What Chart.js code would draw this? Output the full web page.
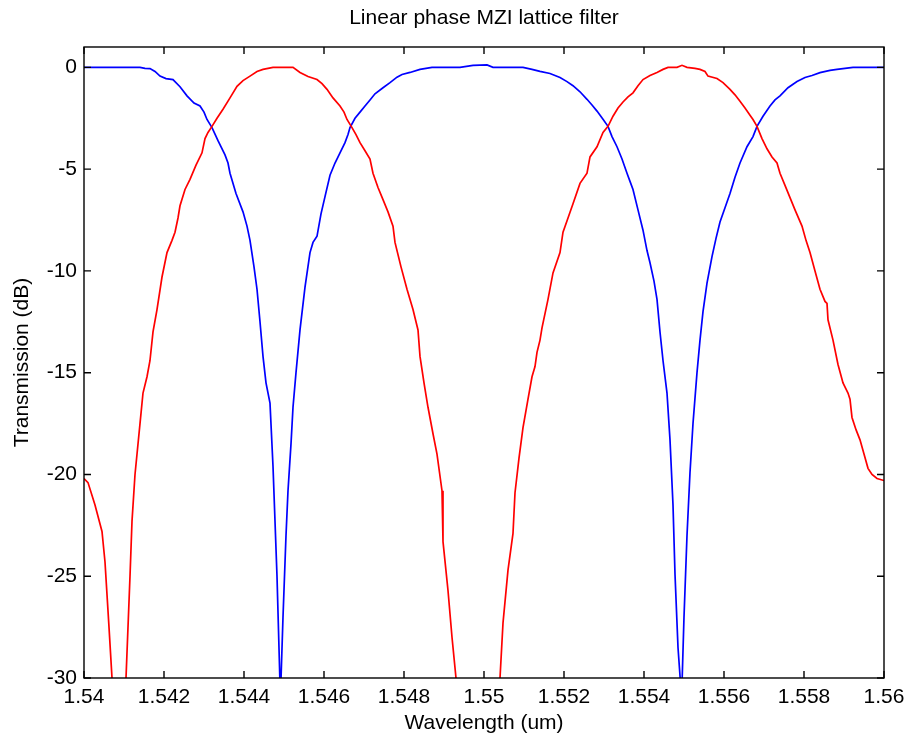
<!DOCTYPE html>
<html>
<head>
<meta charset="utf-8">
<script src="https://cdn.jsdelivr.net/npm/chart.js@4/dist/chart.umd.min.js"></script>
<style>
  html, body { margin: 0; padding: 0; background: #fff; }
  #wrap { width: 916px; height: 744px; }
</style>
</head>
<body>
<div id="wrap"><canvas id="chart" width="916" height="744"></canvas></div>
<script>
// wavelength in nm, transmission in dB
const blueWl = [
  1540.000, 1541.400, 1541.525, 1541.650, 1541.775, 1541.900, 1542.050, 1542.225, 1542.400, 1542.575,
  1542.750, 1542.900, 1543.000, 1543.075, 1543.200, 1543.350, 1543.525, 1543.600, 1543.650, 1543.800,
  1543.975, 1544.075, 1544.150, 1544.250, 1544.325, 1544.400, 1544.475, 1544.550, 1544.650, 1544.725,
  1544.825, 1544.910, 1544.975, 1545.050, 1545.100, 1545.175, 1545.225, 1545.300, 1545.400, 1545.525,
  1545.650, 1545.725, 1545.825, 1545.925, 1546.025, 1546.150, 1546.275, 1546.400, 1546.525, 1546.600,
  1546.650, 1546.775, 1546.900, 1547.025, 1547.150, 1547.275, 1547.475, 1547.650, 1547.825, 1547.950,
  1548.150, 1548.400, 1548.700, 1549.400, 1549.725, 1550.075, 1550.225, 1550.975, 1551.200, 1551.400,
  1551.650, 1551.900, 1552.075, 1552.225, 1552.400, 1552.575, 1552.700, 1552.825, 1552.975, 1553.100,
  1553.200, 1553.325, 1553.450, 1553.575, 1553.650, 1553.725, 1553.850, 1553.975, 1554.075, 1554.150,
  1554.250, 1554.325, 1554.400, 1554.475, 1554.575, 1554.650, 1554.725, 1554.775, 1554.850, 1554.940,
  1555.000, 1555.075, 1555.150, 1555.225, 1555.325, 1555.400, 1555.475, 1555.575, 1555.700, 1555.800,
  1555.900, 1556.025, 1556.150, 1556.275, 1556.400, 1556.575, 1556.725, 1556.825, 1556.975, 1557.150,
  1557.275, 1557.400, 1557.600, 1557.825, 1558.025, 1558.200, 1558.400, 1558.650, 1558.825, 1559.025,
  1559.225, 1560.000
];
const blueDb = [
  0, 0, -0.05, -0.06, -0.2, -0.43, -0.55, -0.6, -0.95, -1.4,
  -1.75, -1.9, -2.2, -2.56, -2.96, -3.6, -4.3, -4.7, -5.2, -6.2,
  -7.1, -7.8, -8.5, -9.8, -10.9, -12.5, -14.2, -15.5, -16.5, -19.6,
  -25, -31, -27, -23, -20.8, -18.5, -16.7, -15, -12.9, -10.8,
  -9.1, -8.6, -8.3, -7.2, -6.35, -5.3, -4.7, -4.2, -3.7, -3.3,
  -2.96, -2.5, -2.2, -1.9, -1.6, -1.3, -1.0, -0.75, -0.48, -0.35,
  -0.25, -0.1, 0, 0, 0.1, 0.12, 0, 0, -0.1, -0.2,
  -0.3, -0.5, -0.7, -0.9, -1.2, -1.57, -1.85, -2.15, -2.55, -2.9,
  -3.4, -3.9, -4.5, -5.2, -5.6, -6.0, -7.0, -8.0, -9.0, -9.6,
  -10.5, -11.4, -13.0, -14.4, -16, -18.3, -21.5, -24.9, -28.5, -31,
  -27, -23, -19.9, -17.5, -15, -13.4, -12, -10.6, -9.3, -8.4,
  -7.6, -6.9, -6.2, -5.4, -4.7, -3.9, -3.4, -2.9, -2.4, -1.9,
  -1.6, -1.4, -1.0, -0.7, -0.5, -0.4, -0.26, -0.15, -0.1, -0.05,
  0, 0
];
const redWl = [
  1540.000, 1540.100, 1540.275, 1540.450, 1540.525, 1540.625, 1540.700, 1540.875, 1541.050, 1541.150,
  1541.200, 1541.275, 1541.400, 1541.475, 1541.575, 1541.650, 1541.725, 1541.825, 1541.950, 1542.075,
  1542.200, 1542.275, 1542.350, 1542.400, 1542.525, 1542.650, 1542.800, 1542.950, 1543.025, 1543.100,
  1543.200, 1543.325, 1543.475, 1543.650, 1543.825, 1543.975, 1544.150, 1544.325, 1544.475, 1544.725,
  1545.225, 1545.400, 1545.600, 1545.825, 1545.950, 1546.075, 1546.225, 1546.400, 1546.500, 1546.575,
  1546.700, 1546.800, 1546.900, 1547.025, 1547.150, 1547.225, 1547.350, 1547.475, 1547.600, 1547.725,
  1547.775, 1547.925, 1548.075, 1548.225, 1548.350, 1548.400, 1548.500, 1548.600, 1548.725, 1548.825,
  1548.950, 1548.975, 1549.100, 1549.200, 1549.300, 1549.850, 1550.400, 1550.475, 1550.600, 1550.725,
  1550.775, 1550.875, 1550.975, 1551.100, 1551.200, 1551.275, 1551.325, 1551.400, 1551.450, 1551.600,
  1551.725, 1551.900, 1551.975, 1552.100, 1552.225, 1552.400, 1552.575, 1552.650, 1552.825, 1552.975,
  1553.100, 1553.225, 1553.350, 1553.475, 1553.600, 1553.725, 1553.850, 1553.975, 1554.150, 1554.325,
  1554.475, 1554.600, 1554.825, 1554.950, 1555.075, 1555.275, 1555.400, 1555.525, 1555.600, 1555.825,
  1555.975, 1556.150, 1556.275, 1556.400, 1556.525, 1556.650, 1556.725, 1556.825, 1556.950, 1557.075,
  1557.200, 1557.325, 1557.400, 1557.525, 1557.650, 1557.775, 1557.950, 1558.050, 1558.150, 1558.275,
  1558.400, 1558.525, 1558.575, 1558.600, 1558.725, 1558.850, 1558.975, 1559.100, 1559.150, 1559.200,
  1559.300, 1559.400, 1559.500, 1559.600, 1559.700, 1559.825, 1560.000
];
const redDb = [
  -20.2, -20.4, -21.5, -22.8, -24.3, -27.5, -30, -36, -30, -25,
  -22.3, -20, -17.5, -16, -15.2, -14.4, -13, -11.9, -10.3, -9.1,
  -8.5, -8.1, -7.4, -6.8, -6.0, -5.5, -4.8, -4.2, -3.5, -3.2,
  -2.9, -2.5, -2.06, -1.5, -0.93, -0.65, -0.43, -0.2, -0.1, 0,
  0, -0.25, -0.45, -0.6, -0.8, -1.08, -1.5, -1.9, -2.2, -2.56,
  -2.96, -3.3, -3.7, -4.1, -4.5, -5.2, -5.9, -6.5, -7.1, -7.8,
  -8.6, -9.8, -10.9, -11.9, -12.9, -14.2, -15.5, -16.7, -18, -19,
  -20.8, -23.3, -25.7, -28, -30, -44, -30, -27.3, -24.7, -22.9,
  -20.9, -19.2, -17.7, -16.3, -15.2, -14.7, -14.0, -13.4, -12.8, -11.4,
  -10.1, -9.1, -8.1, -7.4, -6.7, -5.7, -5.2, -4.4, -3.9, -3.2,
  -2.9, -2.4, -2.0, -1.7, -1.45, -1.25, -0.9, -0.6, -0.4, -0.25,
  -0.1, 0, 0, 0.1, 0, -0.05, -0.1, -0.2, -0.43, -0.55,
  -0.75, -1.08, -1.35, -1.67, -2.0, -2.35, -2.56, -2.9, -3.5, -4.0,
  -4.4, -4.7, -5.2, -5.8, -6.4, -7.0, -7.8, -8.5, -9.1, -10.0,
  -10.9, -11.5, -11.6, -12.4, -13.4, -14.6, -15.5, -16.0, -16.3, -17.2,
  -17.8, -18.3, -19.0, -19.7, -20.0, -20.2, -20.3
];
const xTicks = [1.54, 1.542, 1.544, 1.546, 1.548, 1.55, 1.552, 1.554, 1.556, 1.558, 1.56];
const xTickLabels = ["1.54", "1.542", "1.544", "1.546", "1.548", "1.55", "1.552", "1.554", "1.556", "1.558", "1.56"];
const yTicks = [0, -5, -10, -15, -20, -25, -30];
const titleText = "Linear phase MZI lattice filter";

const toPoints = (wl, db) => wl.map((w, i) => ({ x: w / 1000, y: db[i] }));

const textFont = { family: "'Liberation Sans', Arial, sans-serif", size: 21 };

// MATLAB style box with inward ticks on all four sides, title centred over the axes
const boxPlugin = {
  id: "box",
  afterDraw(chart) {
    const { ctx, chartArea } = chart;
    const { left, right, top, bottom } = chartArea;
    const x = chart.scales.x;
    const y = chart.scales.y;
    const len = 7;
    ctx.save();
    ctx.strokeStyle = "#000";
    ctx.lineWidth = 1.4;
    ctx.strokeRect(left, top, right - left, bottom - top);
    ctx.beginPath();
    xTicks.forEach((v) => {
      const px = x.getPixelForValue(v);
      ctx.moveTo(px, bottom);
      ctx.lineTo(px, bottom - len);
      ctx.moveTo(px, top);
      ctx.lineTo(px, top + len);
    });
    yTicks.forEach((v) => {
      const py = y.getPixelForValue(v);
      ctx.moveTo(left, py);
      ctx.lineTo(left + len, py);
      ctx.moveTo(right, py);
      ctx.lineTo(right - len, py);
    });
    ctx.stroke();

    ctx.fillStyle = "#000";
    ctx.font = "21px 'Liberation Sans', Arial, sans-serif";
    ctx.textAlign = "center";
    ctx.textBaseline = "middle";
    ctx.fillText(titleText, (left + right) / 2, 18);
    ctx.restore();
  },
};

new Chart(document.getElementById("chart"), {
  type: "line",
  data: {
    datasets: [
      {
        label: "drop",
        data: toPoints(redWl, redDb),
        borderColor: "#ff0000",
        borderWidth: 1.7,
        pointRadius: 0,
        tension: 0,
        clip: 0,
      },
      {
        label: "through",
        data: toPoints(blueWl, blueDb),
        borderColor: "#0000ff",
        borderWidth: 1.7,
        pointRadius: 0,
        tension: 0,
        clip: 0,
      },
    ],
  },
  options: {
    responsive: false,
    animation: false,
    layout: { padding: { left: 0, right: 32, top: 47, bottom: 0 } },
    plugins: {
      legend: { display: false },
      tooltip: { enabled: false },
      title: { display: false },
    },
    scales: {
      x: {
        type: "linear",
        min: 1.54,
        max: 1.56,
        grid: { display: false, tickLength: 0 },
        border: { display: false },
        afterBuildTicks: (scale) => {
          scale.ticks = xTicks.map((v) => ({ value: v }));
        },
        afterFit: (scale) => {
          scale.height = 66;
        },
        ticks: {
          color: "#000",
          font: textFont,
          padding: 7,
          maxRotation: 0,
          autoSkip: false,
          callback: (v, i) => xTickLabels[i],
        },
        title: {
          display: true,
          text: "Wavelength (um)",
          color: "#000",
          font: textFont,
          padding: { top: 0, bottom: 8 },
        },
      },
      y: {
        type: "linear",
        min: -30,
        max: 1,
        grid: { display: false, tickLength: 0 },
        border: { display: false },
        afterBuildTicks: (scale) => {
          scale.ticks = yTicks.map((v) => ({ value: v }));
        },
        afterFit: (scale) => {
          scale.width = 84;
        },
        ticks: {
          color: "#000",
          font: textFont,
          padding: 7,
          autoSkip: false,
        },
        title: {
          display: true,
          text: "Transmission (dB)",
          color: "#000",
          font: textFont,
          padding: { top: 10, bottom: 0 },
        },
      },
    },
  },
  plugins: [boxPlugin],
});
</script>
</body>
</html>
